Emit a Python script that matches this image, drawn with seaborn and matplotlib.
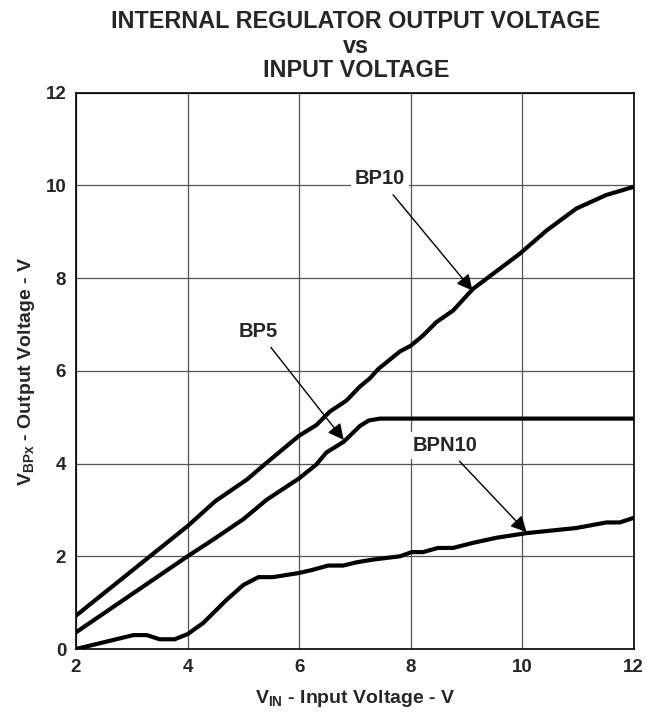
import matplotlib
matplotlib.use("Agg")
import pandas as pd
import seaborn as sns
import matplotlib.pyplot as plt

# datos (V_IN vs V_BPx)
bp10_x = [2, 4, 4.5, 5.07, 5.42, 6.0, 6.31, 6.55, 6.85, 7.09, 7.27, 7.42, 7.81, 8.0,
          8.22, 8.46, 8.76, 9.12, 9.96, 10.44, 10.97, 11.5, 12]
bp10_y = [0.72, 2.65, 3.19, 3.66, 4.02, 4.6, 4.83, 5.12, 5.36, 5.66, 5.84, 6.04, 6.42, 6.54,
          6.76, 7.05, 7.3, 7.77, 8.53, 9.03, 9.5, 9.79, 9.97]

bp5_x = [2, 4, 4.46, 5.0, 5.42, 6.0, 6.31, 6.49, 6.8, 7.09, 7.25, 7.45, 12]
bp5_y = [0.36, 2.0, 2.36, 2.8, 3.22, 3.68, 3.98, 4.24, 4.47, 4.81, 4.93, 4.97, 4.97]

bpn10_x = [2, 3.03, 3.27, 3.5, 3.77, 4.0, 4.28, 4.7, 5.0, 5.27, 5.53, 6.0, 6.25, 6.52,
           6.79, 7.03, 7.33, 7.81, 8.02, 8.22, 8.49, 8.76, 9.12, 9.54, 10.08, 10.97,
           11.51, 11.75, 12]
bpn10_y = [0, 0.3, 0.3, 0.21, 0.21, 0.32, 0.56, 1.06, 1.38, 1.55, 1.55, 1.64, 1.71, 1.8,
           1.8, 1.87, 1.93, 2.0, 2.09, 2.09, 2.18, 2.18, 2.29, 2.4, 2.5, 2.61,
           2.73, 2.73, 2.83]

# etiquetas: texto, posicion del texto, punta de la flecha
etiquetas = [("BP10", (7.45, 10.14), (9.11, 7.73)),
             ("BP5", (5.27, 6.85), (6.8, 4.51)),
             ("BPN10", (8.61, 4.39), (10.08, 2.52))]

sns.set_style("white")
plt.rcParams["font.family"] = ["Liberation Sans", "DejaVu Sans"]
plt.rcParams["mathtext.fontset"] = "custom"
plt.rcParams["mathtext.bf"] = "Liberation Sans:bold"
plt.rcParams["mathtext.rm"] = "Liberation Sans:bold"
plt.rcParams["mathtext.default"] = "bf"

fig = plt.figure(figsize=(6.46, 7.22), dpi=100)
ax = fig.add_axes([0.1176, 0.1011, 0.981 - 0.1176, 0.8716 - 0.1011])

for xs, ys in [(bp10_x, bp10_y), (bp5_x, bp5_y), (bpn10_x, bpn10_y)]:
    df = pd.DataFrame({"vin": xs, "vbp": ys})
    sns.lineplot(data=df, x="vin", y="vbp", sort=False, color="black", lw=3,
                 ax=ax, zorder=3)

ax.set_xlim(2, 12)
ax.set_ylim(0, 12)
ax.set_xticks(range(2, 13, 2))
ax.set_yticks(range(0, 13, 2))
ax.grid(True, color="#555555", lw=0.9)
for s in ax.spines.values():
    s.set_color("black")
    s.set_linewidth(1.2)
ax.tick_params(labelsize=13.5, length=0, pad=7)
for lab in ax.get_xticklabels() + ax.get_yticklabels():
    lab.set_fontweight("bold")

ax.set_xlabel("V$_{IN}$ - Input Voltage - V", fontsize=14, fontweight="bold", labelpad=9)
ax.set_ylabel("V$_{BPx}$ - Output Voltage - V", fontsize=14, fontweight="bold", labelpad=6)

for texto, pos, punta in etiquetas:
    ax.annotate(texto, xy=punta, xytext=pos, ha="center", va="center",
                fontsize=14.5, fontweight="bold", zorder=4,
                bbox=dict(facecolor="white", edgecolor="none", pad=3),
                arrowprops=dict(arrowstyle="-|>", color="black", lw=1,
                                mutation_scale=24, shrinkA=2, shrinkB=0))

for texto, ypx in [("INTERNAL REGULATOR OUTPUT VOLTAGE", 28), ("vs", 53), ("INPUT VOLTAGE", 77)]:
    fig.text(0.551, 1 - ypx / 722, texto, ha="center", va="baseline",
             fontsize=16.8, fontweight="bold")

fig.savefig("out.png", dpi=100)
